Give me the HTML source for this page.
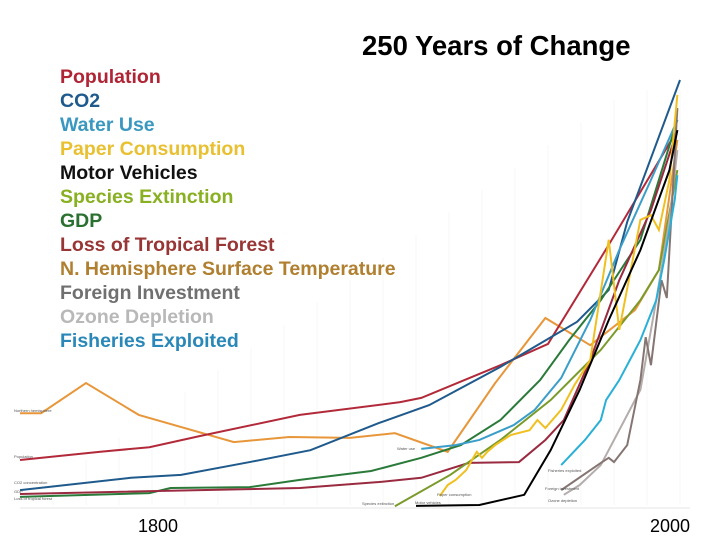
<!DOCTYPE html>
<html><head><meta charset="utf-8"><style>
body{margin:0;background:#fff;}
#wrap{position:relative;width:720px;height:540px;overflow:hidden;font-family:"Liberation Sans",sans-serif;}
.t{position:absolute;white-space:nowrap;}
.lg{position:absolute;left:60px;font-size:19.5px;font-weight:bold;}
</style></head><body>
<div id="wrap">
<svg id="plot" width="720" height="540" style="position:absolute;left:0;top:0"></svg>
<div class="t" style="left:362px;top:30px;font-size:27.5px;font-weight:bold;color:#000">250 Years of Change</div>
<div class="lg" style="top:66px;color:#b02535">Population</div>
<div class="lg" style="top:90px;color:#1f5a8c">CO2</div>
<div class="lg" style="top:114px;color:#3a98c0">Water Use</div>
<div class="lg" style="top:138px;color:#e8c030">Paper Consumption</div>
<div class="lg" style="top:162px;color:#111">Motor Vehicles</div>
<div class="lg" style="top:186px;color:#88b020">Species Extinction</div>
<div class="lg" style="top:210px;color:#2a7030">GDP</div>
<div class="lg" style="top:234px;color:#983535">Loss of Tropical Forest</div>
<div class="lg" style="top:258px;color:#b08030">N. Hemisphere Surface Temperature</div>
<div class="lg" style="top:282px;color:#707070">Foreign Investment</div>
<div class="lg" style="top:306px;color:#b8b8b8">Ozone Depletion</div>
<div class="lg" style="top:330px;color:#2a88b8">Fisheries Exploited</div>
<div class="t" style="left:138px;top:516px;font-size:18px">1800</div>
<div class="t" style="left:650px;top:516px;font-size:18px">2000</div>
</div>
<script>
const popYears=[1750,1780,1799,1818,1856,1894,1902,1932,1950,1973,1999];
const popVals=[10.6,12.5,13.6,16.2,21.2,24.2,25.2,32.9,37.9,61.2,88.2];
const co2Years=[1750,1792,1811,1837,1860,1886,1905,1932,1961,1973,1980,2000];
const co2Vals=[3.5,6.4,7.1,10.1,12.9,19.3,23.5,32.5,43.1,50.6,66.6,100];
const waterYears=[1902,1915,1924,1937,1945,1955,1966,1977,1989,1999];
const waterVals=[13.2,14.1,15.3,18.8,22.4,29.9,43.5,60,76.5,90.6];
const paperYears=[1909,1912,1915,1919,1923,1925,1927,1930,1936,1943,1946,1949,1955,1960,1966,1973,1977,1985,1989,1992,1996,1999];
const paperVals=[2.1,4.7,5.9,8.2,12.5,11.1,12.5,14.1,16.5,17.6,20,18.1,22.4,28.2,34.1,62.4,41.2,67.1,68.2,64.7,76.5,96.5];
const motorYears=[1900,1924,1941,1951,1962,1973,1985,1996,1999];
const motorVals=[-0.2,0,2.4,12.9,27.1,43.5,60,78.8,88.2];
const speciesYears=[1892,1913,1932,1951,1970,1985,1992,1999];
const speciesVals=[-0.3,7.1,15.3,24.7,36.5,48.2,55.3,78.8];
const gdpYears=[1750,1799,1807,1837,1856,1883,1902,1917,1932,1947,1958,1970,1985,1999];
const gdpVals=[1.9,2.8,4,4.2,5.9,8,11.1,14.1,20,29.4,38.8,48.2,62.4,90.6];
const forestYears=[1750,1856,1886,1902,1920,1939,1949,1956,1966,1977,1989,1999];
const forestVals=[2.6,4,5.4,6.4,9.9,10.1,15.3,20,34.1,52.9,69.4,88.2];
const tempYears=[1750,1758,1775,1795,1831,1852,1875,1892,1912,1930,1949,1966,1983,1992,1999];
const tempVals=[21.6,21.6,28.7,21.2,14.8,16,15.8,16.9,12.5,28.7,44,37.6,45.9,55.3,85.9];
const foreignYears=[1955,1970,1973,1975,1980,1985,1987,1989,1993,1995,1999];
const foreignVals=[3.5,9.9,11.1,10.1,14.1,29.4,39.5,32.9,52.9,48.7,93.4];
const ozoneYears=[1956,1962,1970,1975,1979,1985,1991,1996,1999];
const ozoneVals=[2.4,4.7,9.4,15.3,20,27.1,48.2,67.1,83.5];
const fishYears=[1955,1964,1970,1972,1977,1985,1991,1994,1998,1999];
const fishVals=[9.4,15.3,20,24.7,29.4,38.8,48.2,57.6,71.8,77.6];

const NS="http://www.w3.org/2000/svg";
const svg=document.getElementById('plot');
function xs(y){return 20+(y-1750)*2.64;}
function ys(v){return 505-v*4.25;}
for(let yr=1750;yr<=2000;yr+=12.5){
  const l=document.createElementNS(NS,'line');
  
  
  l.setAttribute('x1',xs(yr));l.setAttribute('x2',xs(yr));
  l.setAttribute('y1',Math.max(ys(0)-(yr-1750)*1.8,90));l.setAttribute('y2',ys(0));
  l.setAttribute('stroke','#f7f7f7');l.setAttribute('stroke-width','1');
  svg.appendChild(l);
}
const ax=document.createElementNS(NS,'line');


ax.setAttribute('x1',20);ax.setAttribute('x2',690);ax.setAttribute('y1',508);ax.setAttribute('y2',508);
ax.setAttribute('stroke','#e6e6e6');svg.appendChild(ax);
const series=[
 ['series-temperature',tempYears,tempVals,'#e8963a'],
 ['series-population',popYears,popVals,'#b22a3a'],
 ['series-co2',co2Years,co2Vals,'#1f5a8c'],
 ['series-gdp',gdpYears,gdpVals,'#2a7a3a'],
 ['series-forest',forestYears,forestVals,'#9a2a40'],
 ['series-water-use',waterYears,waterVals,'#3a9ec8'],
 ['series-species',speciesYears,speciesVals,'#7a9a2a'],
 ['series-ozone',ozoneYears,ozoneVals,'#b5acac'],
 ['series-foreign-investment',foreignYears,foreignVals,'#857572'],
 ['series-fisheries',fishYears,fishVals,'#2ab0d8'],
 ['series-paper',paperYears,paperVals,'#f0c020'],
 ['series-motor-vehicles',motorYears,motorVals,'#000000']
];
series.forEach(s=>{
  const p=document.createElementNS(NS,'polyline');
  
  
  p.setAttribute('points',s[1].map((y,i)=>xs(y)+','+ys(s[2][i])).join(' '));
  p.setAttribute('fill','none');p.setAttribute('stroke',s[3]);p.setAttribute('stroke-width','2');
  svg.appendChild(p);
});
const tiny=[['Northern hemisphere',14,412],['Population',14,458],['CO2 concentration',14,484],['GDP',14,493],['Loss of tropical forest',14,500],['Water use',397,450],['Paper consumption',437,496],['Species extinction',362,505],['Motor vehicles',415,504],['Fisheries exploited',548,472],['Foreign investment',545,490],['Ozone depletion',548,502]];
tiny.forEach(t=>{
  const e=document.createElementNS(NS,'text');
  
  
  e.setAttribute('x',t[1]);e.setAttribute('y',t[2]);
  e.setAttribute('font-size','4');e.setAttribute('fill','#555');
  e.setAttribute('font-family','Liberation Sans, sans-serif');
  e.textContent=t[0];svg.appendChild(e);
});
</script>
</body></html>
